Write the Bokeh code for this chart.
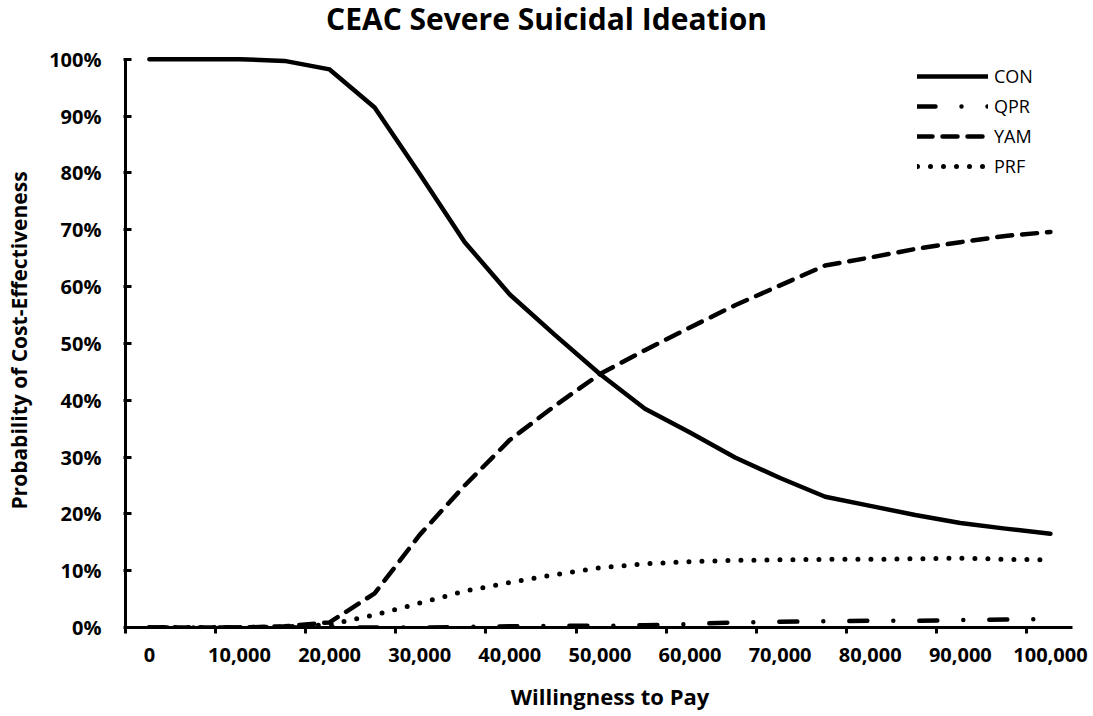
from bokeh.plotting import figure
from bokeh.layouts import column
from bokeh.models import Range1d, LinearAxis, FixedTicker, Legend, LegendItem, Div
from bokeh.embed import file_html
from bokeh.resources import INLINE

# ---- data ----
wtp = [0, 5000, 10000, 15000, 20000, 25000, 30000, 35000, 40000, 45000, 50000,
       55000, 60000, 65000, 70000, 75000, 80000, 85000, 90000, 95000, 100000]
con = [100, 100, 100, 99.7, 98.2, 91.5, 79.8, 67.8, 58.6, 51.5, 44.6,
       38.5, 34.3, 29.9, 26.3, 23.0, 21.4, 19.8, 18.4, 17.4, 16.5]
qpr = [0, 0, 0, 0, 0, 0, 0, 0.1, 0.2, 0.3, 0.3,
       0.4, 0.6, 0.9, 1.0, 1.1, 1.2, 1.2, 1.3, 1.4, 1.5]
yam = [0, 0, 0, 0.2, 0.9, 6.0, 16.3, 25.0, 33.0, 39.0, 44.6,
       48.8, 52.8, 56.7, 60.2, 63.7, 65.1, 66.6, 67.8, 68.9, 69.6]
prf = [0, 0, 0, 0.1, 0.5, 2.2, 4.3, 6.4, 7.9, 9.3, 10.5,
       11.2, 11.6, 11.8, 11.9, 12.0, 12.0, 12.1, 12.2, 12.0, 11.9]

series_names = ["CON", "QPR", "YAM", "PRF"]

x_tick_values = [0, 10000, 20000, 30000, 40000, 50000, 60000, 70000, 80000, 90000, 100000]
x_tick_labels = ["0", "10,000", "20,000", "30,000", "40,000", "50,000",
                 "60,000", "70,000", "80,000", "90,000", "100,000"]
y_tick_values = [0, 10, 20, 30, 40, 50, 60, 70, 80, 90, 100]
y_tick_labels = ["0%", "10%", "20%", "30%", "40%", "50%",
                 "60%", "70%", "80%", "90%", "100%"]

title_text = "CEAC Severe Suicidal Ideation"
x_title = "Willingness to Pay"
y_title = "Probability of Cost-Effectiveness"

FONT = "Open Sans"

# ---- page title (above the figure) ----
title_div = Div(text=title_text, width=1093, height=40, margin=0,
                styles={"text-align": "center", "font-family": FONT,
                        "font-size": "30px", "font-weight": "bold",
                        "color": "black", "line-height": "38px",
                        "width": "1093px", "height": "40px"})

# ---- x-axis title (below the figure) ----
xtitle_div = Div(text=x_title, width=1093, height=36, margin=0,
                 styles={"text-align": "center", "font-family": FONT,
                         "font-size": "22px", "font-weight": "bold",
                         "color": "black", "line-height": "33px",
                         "padding-left": "127px", "box-sizing": "border-box",
                         "width": "1093px", "height": "36px"})

# ---- figure ----
TICK_SHIFT = -2650  # tick marks sit half a step left of the labels

p = figure(width=1093, height=640, output_backend="svg", toolbar_location=None,
           x_range=Range1d(-2650, 102450), y_range=Range1d(0, 101),
           x_axis_location=None, y_axis_location=None,
           min_border_left=125, min_border_right=21,
           min_border_top=13, min_border_bottom=53)
p.margin = 0
p.xgrid.visible = False
p.ygrid.visible = False
p.outline_line_color = None
p.background_fill_color = "white"
p.border_fill_color = "white"

xaxis = LinearAxis(
    ticker=FixedTicker(ticks=x_tick_values,
                       minor_ticks=[v + TICK_SHIFT for v in x_tick_values]),
    major_label_overrides={v: lab for v, lab in zip(x_tick_values, x_tick_labels)},
)
yaxis = LinearAxis(
    ticker=FixedTicker(ticks=y_tick_values, minor_ticks=[]),
    major_label_overrides={v: lab for v, lab in zip(y_tick_values, y_tick_labels)},
    axis_label=y_title, bounds=(0, 100),
)
for ax in (xaxis, yaxis):
    ax.axis_line_color = "black"
    ax.axis_line_width = 3
    ax.major_label_text_font = FONT
    ax.major_label_text_font_size = "20px"
    ax.major_label_text_font_style = "bold"
    ax.major_label_text_color = "black"

xaxis.major_tick_line_color = None
xaxis.major_tick_out = 0
xaxis.major_tick_in = 0
xaxis.minor_tick_line_color = "black"
xaxis.minor_tick_line_width = 3
xaxis.minor_tick_out = 6
xaxis.minor_tick_in = 0
xaxis.major_label_standoff = 14

yaxis.major_tick_line_color = "black"
yaxis.major_tick_line_width = 3
yaxis.major_tick_in = 6
yaxis.major_tick_out = 2
yaxis.minor_tick_line_color = None
yaxis.major_label_standoff = 22
yaxis.axis_label_text_font = FONT
yaxis.axis_label_text_font_size = "21px"
yaxis.axis_label_text_font_style = "bold"
yaxis.axis_label_text_color = "black"
yaxis.axis_label_standoff = 13

p.add_layout(xaxis, "below")
p.add_layout(yaxis, "left")

# ---- lines ----
styles = {
    "CON": dict(line_dash="solid", line_width=4.5),
    "QPR": dict(line_dash="18 26 0 26", line_width=4.5),
    "YAM": dict(line_dash="15 10", line_width=4.5),
    "PRF": dict(line_dash="0 13", line_width=5),
}
values = {"CON": con, "QPR": qpr, "YAM": yam, "PRF": prf}
items = []
for name in series_names:
    r = p.line(wtp, values[name], line_color="black",
               line_cap="round", line_join="round", **styles[name])
    items.append(LegendItem(label=name, renderers=[r]))

legend = Legend(items=items, location=(792, 449),
                glyph_width=71, glyph_height=24, label_height=24,
                spacing=6, padding=10, margin=0, label_standoff=6,
                label_text_font=FONT, label_text_font_size="18px",
                label_text_color="black",
                border_line_color=None, background_fill_alpha=0)
p.add_layout(legend)

page = column(title_div, p, xtitle_div, spacing=0, margin=0)
open("out.html", "w").write(file_html(page, INLINE))
